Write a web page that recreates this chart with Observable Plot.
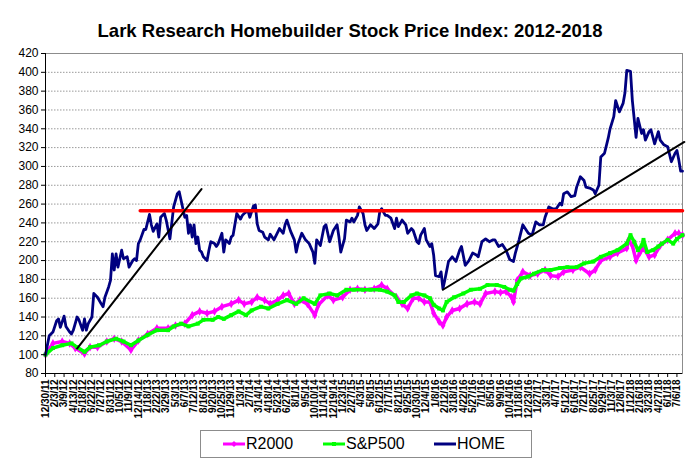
<!DOCTYPE html>
<html>
<head>
<meta charset="utf-8">
<script src="https://cdn.jsdelivr.net/npm/d3@7"></script>
<script src="https://cdn.jsdelivr.net/npm/@observablehq/plot@0.6"></script>
<style>
  body { margin: 0; background: #fff; font-family: "Liberation Sans", Arial, sans-serif; }
  #wrap { position: relative; width: 700px; height: 476px; overflow: hidden; }
  #title { height: 44px; box-sizing: border-box; padding-top: 20px; line-height: 22px; font-size: 18.5px; font-weight: bold; text-align: center; color: #000; }
  #chart svg { display: block; }
  #legend { position: absolute; left: 200px; top: 430px; width: 332px; height: 28px; box-sizing: border-box; border: 1px solid #8c8c8c; font-size: 16px; }
  .item { position: absolute; top: 0; height: 26px; line-height: 26px; }
  .item svg { position: absolute; top: 0; }
  .item span { position: absolute; white-space: nowrap; }
</style>
</head>
<body>
<div id="wrap">
  <div id="title">Lark Research Homebuilder Stock Price Index: 2012-2018</div>
  <div id="chart"></div>
  <div id="legend"></div>
</div>
<script>
// ---- Data (x = weeks since 12/30/11, y = index value, 12/30/11 = 100) ----
const tickLabels = ["12/30/11","2/3/12","3/9/12","4/13/12","5/18/12","6/22/12","7/27/12","8/31/12","10/5/12","11/9/12","12/14/12","1/18/13","2/22/13","3/29/13","5/3/13","6/7/13","7/12/13","8/16/13","9/20/13","10/25/13","11/29/13","1/3/14","2/7/14","3/14/14","4/18/14","5/23/14","6/27/14","8/1/14","9/5/14","10/10/14","11/14/14","12/19/14","1/23/15","2/27/15","4/3/15","5/8/15","6/12/15","7/17/15","8/21/15","9/25/15","10/30/15","12/4/15","1/8/16","2/12/16","3/18/16","4/22/16","5/27/16","7/1/16","8/5/16","9/9/16","10/14/16","11/18/16","12/23/16","1/27/17","3/3/17","4/7/17","5/12/17","6/16/17","7/21/17","8/25/17","9/29/17","11/3/17","12/8/17","1/12/18","2/16/18","3/23/18","4/27/18","6/1/18","7/6/18"];

const yTicks = [80,100,120,140,160,180,200,220,240,260,280,300,320,340,360,380,400,420];

const HOME = [[0,100],[2,120],[4,124],[6,136],[7,138],[8,129],[10,141],[11,130],[13,124],[14,122],[15,126],[17,140],[18,137],[20,126],[21,138],[22,126],[23,133],[25,140],[26,165],[28,161],[30,154],[31,151],[32,161],[34,172],[35,179],[36,207],[37,190],[38,207],[39,193],[41,211],[42,202],[44,204],[45,193],[47,200],[48,202],[49,200],[50,218],[51,222],[53,233],[54,233],[56,249],[57,238],[58,231],[60,239],[61,225],[62,246],[64,250],[65,243],[67,223],[69,257],[71,271],[72,273],[73,264],[75,246],[76,248],[77,229],[78,238],[79,225],[80,238],[81,218],[82,225],[83,211],[84,209],[85,204],[87,200],[88,211],[89,220],[91,218],[92,215],[93,218],[95,229],[96,209],[97,222],[99,218],[100,225],[101,227],[103,250],[105,244],[106,248],[107,250],[109,253],[110,246],[112,258],[113,259],[114,239],[115,232],[117,230],[118,225],[120,222],[121,228],[123,222],[125,230],[126,234],[128,229],[129,238],[130,243],[132,231],[134,222],[135,209],[136,218],[138,229],[140,222],[142,218],[144,209],[145,197],[146,222],[148,216],[150,236],[151,238],[153,220],[155,232],[157,238],[158,225],[159,209],[161,223],[162,243],[164,241],[165,245],[166,241],[168,248],[169,257],[171,250],[172,238],[173,232],[175,238],[177,234],[179,239],[180,252],[181,255],[183,248],[184,248],[186,245],[188,234],[189,245],[190,236],[192,243],[194,238],[195,229],[197,234],[198,232],[200,220],[201,218],[202,227],[204,234],[205,222],[207,215],[208,218],[209,206],[210,184],[212,183],[213,188],[214,170],[215,179],[217,199],[219,204],[221,199],[223,211],[224,215],[226,195],[228,200],[230,208],[232,206],[233,204],[235,220],[237,223],[239,220],[241,222],[242,222],[244,215],[246,217],[248,211],[250,201],[252,199],[253,208],[255,222],[257,238],[259,232],[260,229],[262,227],[264,241],[266,238],[268,238],[269,246],[271,257],[273,255],[275,255],[277,261],[278,259],[279,271],[281,273],[283,268],[285,269],[286,278],[288,289],[290,285],[291,278],[293,277],[295,275],[296,271],[298,280],[299,310],[301,314],[303,330],[304,340],[306,353],[307,370],[309,358],[311,367],[312,378],[313,402],[315,401],[316,370],[318,331],[319,351],[321,335],[322,339],[323,328],[325,337],[326,339],[328,324],[330,337],[331,328],[333,323],[335,321],[337,305],[339,314],[340,317],[341,307],[342,295],[343,295]];

const R2000 = [[0,100],[4,112],[9,114],[13,112],[16,107],[21,101],[24,108],[28,108],[33,114],[37,117],[41,114],[46,105],[50,115],[55,122],[60,128],[66,128],[70,131],[75,133],[79,142],[83,146],[87,144],[91,146],[95,151],[100,154],[104,158],[107,154],[111,156],[114,161],[118,158],[121,154],[125,158],[128,163],[131,165],[134,154],[137,158],[141,154],[145,142],[147,153],[152,163],[155,158],[160,161],[164,169],[168,170],[172,169],[177,170],[181,174],[184,170],[189,161],[192,154],[195,149],[198,160],[201,160],[204,156],[207,156],[209,144],[212,135],[214,131],[216,140],[219,147],[223,149],[227,154],[231,156],[234,154],[237,165],[242,167],[245,166],[248,167],[251,161],[252,156],[254,179],[257,188],[261,184],[265,186],[269,190],[272,184],[276,183],[279,188],[284,190],[288,193],[293,186],[296,190],[299,200],[304,204],[308,208],[313,213],[314,222],[316,216],[318,200],[320,208],[322,213],[325,204],[328,206],[331,216],[335,222],[339,229],[341,229],[343,227]];

const SP500 = [[0,100],[4,107],[9,110],[14,112],[17,108],[21,103],[24,108],[29,110],[33,114],[38,117],[42,114],[46,110],[50,115],[55,121],[60,126],[66,126],[69,130],[73,133],[77,130],[82,133],[85,137],[90,137],[93,140],[96,138],[100,142],[104,146],[108,142],[111,147],[116,151],[120,149],[125,154],[130,158],[135,154],[139,160],[145,154],[148,163],[153,165],[157,163],[162,169],[166,169],[171,169],[175,169],[180,169],[184,167],[188,163],[190,156],[193,156],[197,163],[200,165],[204,163],[207,160],[209,153],[212,149],[214,147],[216,156],[220,161],[225,165],[229,169],[234,170],[238,174],[243,174],[247,172],[250,169],[252,168],[254,175],[256,181],[260,183],[263,186],[268,190],[272,190],[277,192],[281,193],[286,193],[290,197],[295,199],[299,204],[304,208],[308,211],[313,218],[315,227],[317,220],[319,211],[321,216],[322,222],[324,209],[327,211],[330,215],[332,218],[335,222],[338,218],[340,223],[343,227]];

const resistance = [[51,253],[343,253]];
const trend1 = [[17,106.5],[84,276]];
const trend2 = [[214,169],[344,326]];

// ---- helpers ----
const start = Date.UTC(2011, 11, 30);
const wk = w => new Date(start + w * 7 * 864e5);
const parse = d3.utcParse("%m/%d/%y");
const tickDates = tickLabels.map(parse);
const labelMap = new Map(tickDates.map((d, i) => [+d, tickLabels[i]]));
const rows = a => a.map(([w, v]) => ({date: wk(w), value: v}));

const chart = Plot.plot({
  width: 700,
  height: 378,
  marginTop: 9,
  marginBottom: 49,
  marginLeft: 45,
  marginRight: 18,
  style: {fontFamily: "'Liberation Sans', Arial, sans-serif", color: "#000", background: "#fff"},
  x: {type: "utc", domain: [wk(0), wk(343)]},
  y: {domain: [80, 420]},
  marks: [
    Plot.ruleY(yTicks.slice(1, -1), {stroke: "#9a9a9a", strokeWidth: 1, strokeDasharray: "1.5,1.5"}),
    Plot.frame({stroke: "#8c8c8c"}),
    Plot.line(rows(R2000), {x: "date", y: "value", stroke: "#ff00ff", strokeWidth: 3.5}),
    Plot.dot(rows(R2000), {x: "date", y: "value", fill: "#ff00ff", symbol: "diamond", r: 2.6}),
    Plot.line(rows(SP500), {x: "date", y: "value", stroke: "#00ff00", strokeWidth: 3.5}),
    Plot.dot(rows(SP500), {x: "date", y: "value", fill: "#00ff00", symbol: "square", r: 2.2}),
    Plot.line(rows(HOME), {x: "date", y: "value", stroke: "#000080", strokeWidth: 2.8, strokeLinejoin: "round"}),
    Plot.line(rows(resistance), {x: "date", y: "value", stroke: "#ff0000", strokeWidth: 3.5}),
    Plot.line(rows(trend1), {x: "date", y: "value", stroke: "#000", strokeWidth: 2}),
    Plot.line(rows(trend2), {x: "date", y: "value", stroke: "#000", strokeWidth: 2}),
    Plot.ruleX([wk(0)], {stroke: "#000"}),
    Plot.ruleY([80], {stroke: "#000"}),
    Plot.axisY(yTicks, {tickSize: 4, tickPadding: 3, fontSize: 12, label: null}),
    Plot.axisX(tickDates, {tickSize: 4, tickPadding: 2, tickRotate: -90, fontSize: 10, fontWeight: "bold", label: null, tickFormat: d => labelMap.get(+d)})
  ]
});
document.getElementById("chart").appendChild(chart);

// ---- legend ----
const legendItems = [
  {name: "R2000", color: "#ff00ff", marker: "diamond", x: 22},
  {name: "S&P500", color: "#00ff00", marker: "square", x: 122},
  {name: "HOME", color: "#000080", marker: null, x: 233}
];
const legend = document.getElementById("legend");
for (const it of legendItems) {
  const div = document.createElement("div");
  div.className = "item";
  div.style.left = it.x + "px";
  let mk = "";
  if (it.marker === "diamond") mk = `<path d="M11,10 L14,13 L11,16 L8,13 Z" fill="${it.color}"/>`;
  if (it.marker === "square") mk = `<rect x="9" y="11" width="4" height="4" fill="${it.color}"/>`;
  div.innerHTML = `<svg width="22" height="26"><line x1="0" x2="22" y1="13" y2="13" stroke="${it.color}" stroke-width="3"/>${mk}</svg><span style="left:23px">${it.name}</span>`;
  legend.appendChild(div);
}
</script>
</body>
</html>
